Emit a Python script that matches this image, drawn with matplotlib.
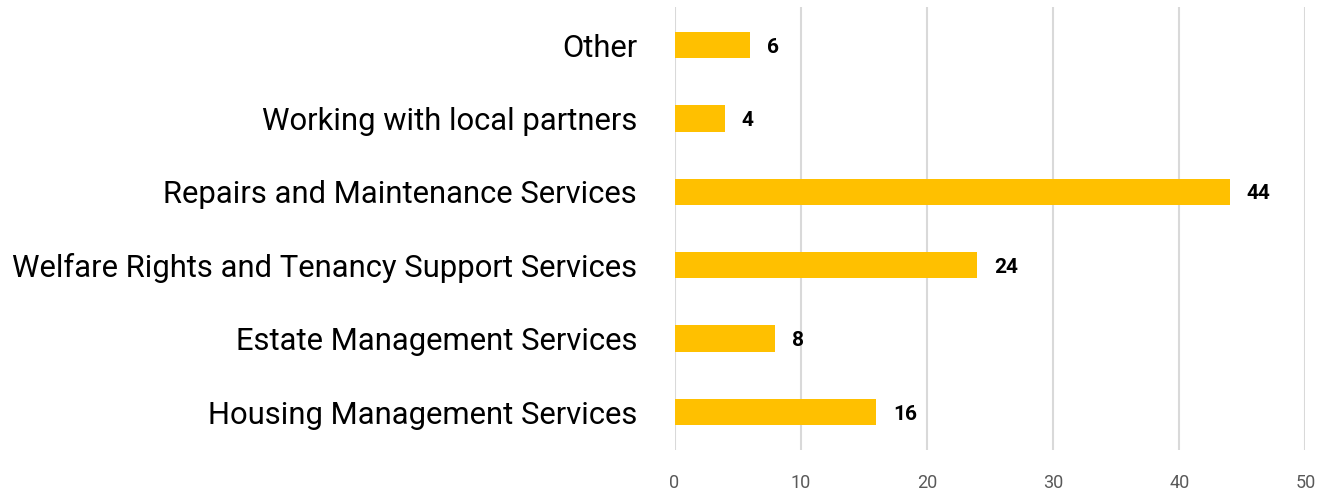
import matplotlib.pyplot as plt

categories = [
    "Housing Management Services",
    "Estate Management Services",
    "Welfare Rights and Tenancy Support Services",
    "Repairs and Maintenance Services",
    "Working with local partners",
    "Other",
]
values = [16, 8, 24, 44, 4, 6]
x_ticks = [0, 10, 20, 30, 40, 50]


def main():
    plt.rcParams["font.family"] = ["Roboto", "DejaVu Sans"]
    fig = plt.figure(figsize=(13.2, 4.92), dpi=100)
    ax = fig.add_axes([0.511, 0.085, 0.478, 0.90])

    ypos = range(len(categories))
    ax.barh(ypos, values, height=0.36, color="#FFC000", zorder=3)

    for y, v in zip(ypos, values):
        ax.text(v + 1.3, y, str(v), va="center_baseline", ha="left",
                fontsize=15, fontweight="bold", color="black")

    ax.set_xlim(0, 50)
    ax.set_ylim(-0.52, 5.515)
    ax.set_xticks(x_ticks)
    ax.set_yticks(list(ypos))
    ax.set_yticklabels(categories, fontsize=22.3, color="black")
    ax.tick_params(axis="y", length=0, pad=27)
    ax.tick_params(axis="x", length=0, pad=17, labelsize=13, labelcolor="#595959")
    ax.xaxis.grid(True, color="#d9d9d9", linewidth=1.5, zorder=0)
    for s in ax.spines.values():
        s.set_visible(False)

    fig.savefig("out.png", dpi=100)
    plt.close(fig)


if __name__ == "__main__":
    main()
